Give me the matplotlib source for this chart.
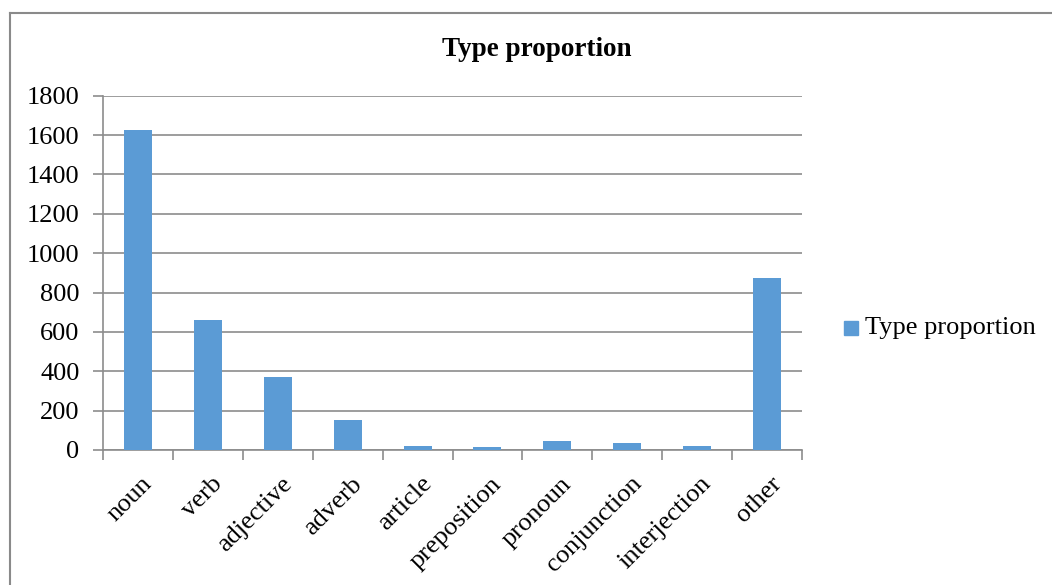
import matplotlib
matplotlib.use("Agg")
import matplotlib.pyplot as plt
import matplotlib.transforms as mtransforms
from matplotlib.patches import Rectangle
from matplotlib.lines import Line2D
import numpy as np

categories = ["noun", "verb", "adjective", "adverb", "article", "preposition",
              "pronoun", "conjunction", "interjection", "other"]
counts = [1625, 661, 371, 154, 20, 17, 44, 37, 20, 876]
y_ticks = [0, 200, 400, 600, 800, 1000, 1200, 1400, 1600, 1800]
series_name = "Type proportion"

plt.rcParams["font.family"] = ["Liberation Serif", "DejaVu Serif"]

W, H = 1052, 585
fig = plt.figure(figsize=(W / 100, H / 100), dpi=100)

# plot area in pixel units
left, right, top, bottom = 103, 802, 95.7, 450
ax = fig.add_axes([left / W, 1 - bottom / H, (right - left) / W, (bottom - top) / H])

grid_col = "#8C8C8C"
bar_col = "#5B9BD5"

x = np.arange(len(categories))
ax.bar(x, counts, width=0.4, color=bar_col, zorder=3)

ax.set_xlim(-0.5, len(categories) - 0.5)
ax.set_ylim(0, 1800)
ax.set_yticks(y_ticks)
ax.set_yticklabels([str(v) for v in y_ticks], fontsize=19)
ax.yaxis.grid(True, color=grid_col, linewidth=1.2, zorder=0)

for side in ("top", "right"):
    ax.spines[side].set_visible(False)
for side in ("left", "bottom"):
    ax.spines[side].set_color(grid_col)
    ax.spines[side].set_linewidth(1.2)

ax.tick_params(axis="y", length=7, width=1.2, color=grid_col, pad=10)

# category boundaries carry the tick marks, labels sit at centres
ax.set_xticks(np.arange(-0.5, len(categories), 1.0), minor=True)
ax.tick_params(axis="x", which="minor", length=7, width=1.2, color=grid_col)
ax.set_xticks(x)
ax.tick_params(axis="x", which="major", length=0, pad=22)
labels = ax.set_xticklabels(categories, fontsize=19, rotation=45,
                            ha="right", va="center", rotation_mode="anchor")
shift = mtransforms.ScaledTranslation(11 / 100, 0, fig.dpi_scale_trans)
for lab in labels:
    lab.set_transform(lab.get_transform() + shift)

fig.text(537 / W, 1 - 50 / H, "Type proportion", ha="center", va="center",
         fontsize=19.5, fontweight="bold")

# legend entry
fig.add_artist(Rectangle((844 / W, 1 - 335 / H), 14 / W, 14 / H,
                         transform=fig.transFigure, color=bar_col))
fig.text(865 / W, 1 - 328 / H, series_name, ha="left", va="center", fontsize=19)

# chart frame (runs off the right and bottom edges)
border = "#8A8A8A"
fig.add_artist(Line2D([10 / W, 10 / W], [0, 1 - 13 / H], transform=fig.transFigure,
                      color=border, linewidth=1.5))
fig.add_artist(Line2D([10 / W, 1], [1 - 13 / H, 1 - 13 / H], transform=fig.transFigure,
                      color=border, linewidth=1.5))

fig.savefig("out.png", dpi=100)
